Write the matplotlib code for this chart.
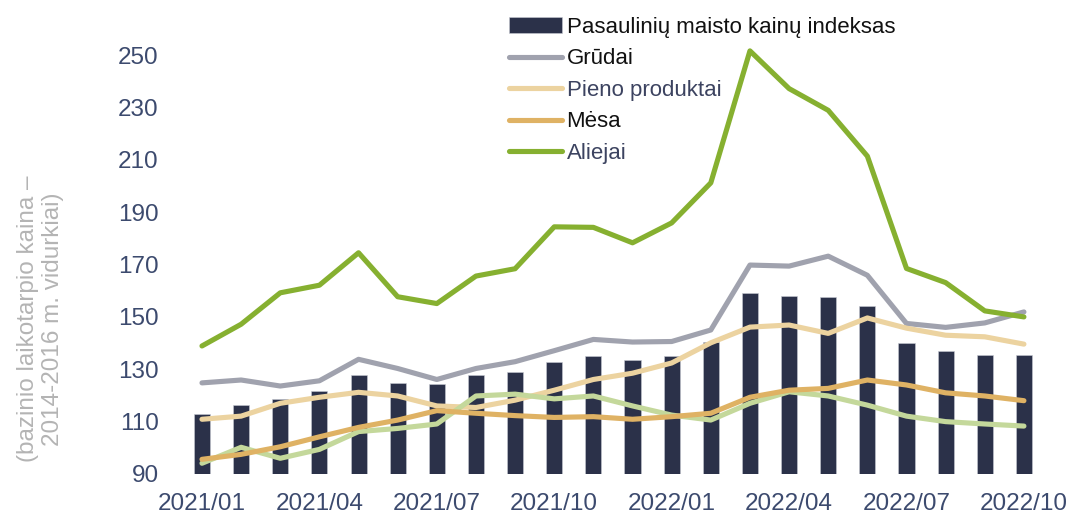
import numpy as np
import matplotlib
matplotlib.use("Agg")
import matplotlib.pyplot as plt

plt.rcParams['font.family'] = ['Liberation Sans', 'DejaVu Sans']

months = ['2021/01', '2021/02', '2021/03', '2021/04', '2021/05', '2021/06',
          '2021/07', '2021/08', '2021/09', '2021/10', '2021/11', '2021/12',
          '2022/01', '2022/02', '2022/03', '2022/04', '2022/05', '2022/06',
          '2022/07', '2022/08', '2022/09', '2022/10']

indeksas = [113.0, 116.2, 118.7, 121.8, 127.8, 124.8, 124.2, 127.7, 128.8, 132.7, 135.0,
            133.5, 135.0, 140.4, 159.1, 157.9, 157.5, 154.1, 140.1, 137.1, 135.5, 135.5]
grudai = [124.8, 125.9, 123.6, 125.6, 133.8, 130.3, 126.1, 130.3, 132.9, 137.1, 141.4,
          140.4, 140.6, 145.0, 169.8, 169.4, 173.2, 165.9, 147.5, 146.0, 147.7, 151.9]
pienas = [110.9, 112.1, 117.0, 119.3, 121.2, 119.8, 116.0, 115.4, 118.2, 122.0, 126.1,
          128.5, 132.4, 140.1, 146.1, 146.9, 143.7, 149.6, 145.7, 143.0, 142.4, 139.6]
mesa = [95.6, 97.5, 100.4, 104.2, 107.8, 110.6, 114.2, 113.2, 112.3, 111.6, 111.9,
        110.9, 111.9, 113.2, 119.3, 122.0, 122.7, 125.9, 124.0, 121.0, 119.8, 118.0]
cukrus = [94.1, 100.2, 96.0, 99.4, 106.2, 107.4, 109.1, 119.8, 120.5, 118.7, 119.8,
          116.0, 112.5, 110.6, 117.0, 121.4, 119.8, 116.3, 112.1, 110.0, 109.1, 108.3]
aliejai = [138.9, 147.2, 159.2, 162.1, 174.5, 157.7, 155.1, 165.6, 168.4, 184.4, 184.2,
           178.3, 185.9, 201.2, 251.6, 237.2, 228.9, 211.4, 168.5, 163.1, 152.3, 150.0]

navy = '#2b3149'
tick_col = '#3c4a6e'

fig = plt.figure(figsize=(10.73, 5.16), dpi=100)
ax = fig.add_axes([0.170, 0.0814, 0.8025, 0.8626])

x = np.arange(len(months))
b = ax.bar(x, indeksas, width=0.41, bottom=0, color=navy, edgecolor='#c8cad2', linewidth=0.4,
           label='Pasaulinių maisto kainų indeksas', zorder=1)
lw = 3.7
l1, = ax.plot(x, grudai, color='#a0a2ae', lw=lw, solid_capstyle='round', label='Grūdai', zorder=2)
l2, = ax.plot(x, pienas, color='#ecd3a0', lw=lw, solid_capstyle='round', label='Pieno produktai', zorder=2)
ax.plot(x, cukrus, color='#c4d89b', lw=lw, solid_capstyle='round', label='_nolegend_', zorder=2)
l3, = ax.plot(x, mesa, color='#dfb264', lw=lw, solid_capstyle='round', label='Mėsa', zorder=3)
l4, = ax.plot(x, aliejai, color='#86b030', lw=lw, solid_capstyle='round', label='Aliejai', zorder=4)

ax.set_xlim(-0.5, len(months) - 0.5)
ax.set_ylim(90, 260)
ax.set_yticks(np.arange(90, 251, 20))
ax.set_xticks(x[::3])
ax.set_xticklabels(months[::3])
ax.tick_params(axis='both', length=0, labelsize=17.5, colors=tick_col)
ax.tick_params(axis='y', pad=17)
ax.tick_params(axis='x', pad=14)
for s in ax.spines.values():
    s.set_visible(False)

fig.text(0.038, 0.382, '(bazinio laikotarpio kaina –\n2014-2016 m. vidurkiai)',
         rotation=90, ha='center', va='center', fontsize=17.5, color='#b4b4b4',
         linespacing=1.15)

leg = ax.legend([b, l1, l2, l3, l4],
                ['Pasaulinių maisto kainų indeksas', 'Grūdai', 'Pieno produktai', 'Mėsa', 'Aliejai'],
                loc='upper left', bbox_to_anchor=(0.468, 0.98), bbox_transform=fig.transFigure,
                frameon=False, fontsize=16, handlelength=2.4, handletextpad=0.2,
                labelspacing=0.47, borderaxespad=0, borderpad=0.3)
txt_cols = ['#111111', '#111111', '#3c4360', '#111111', '#3c4360']
for t, c in zip(leg.get_texts(), txt_cols):
    t.set_color(c)

fig.savefig('out.png', dpi=100)
